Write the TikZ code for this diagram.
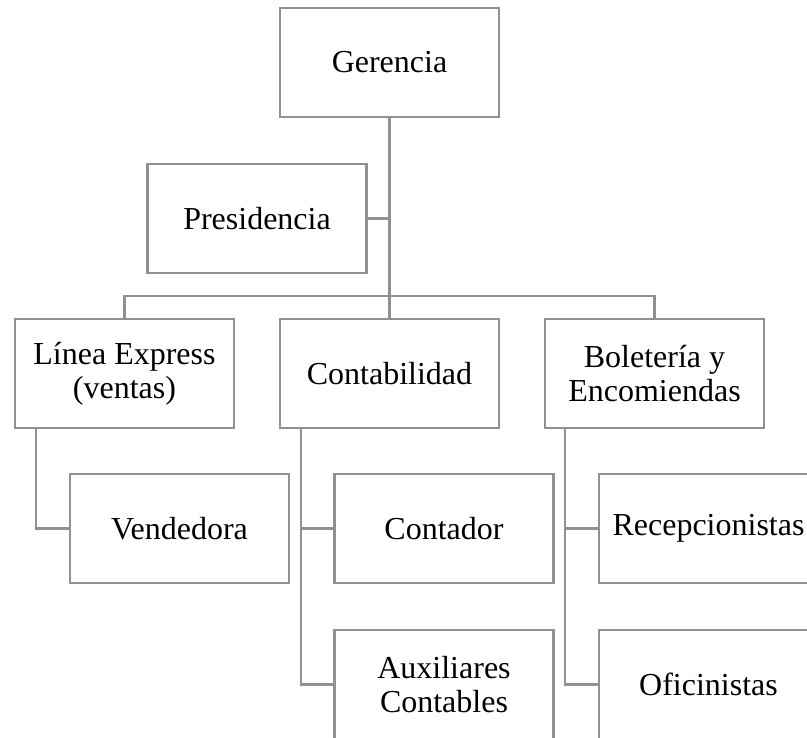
\documentclass[tikz,border=0pt]{standalone}
\usepackage{fontspec}
\setmainfont{Liberation Serif}
\definecolor{linegray}{RGB}{145,145,145}
\begin{document}
\begin{tikzpicture}[x=1pt,y=-1pt,
  box/.style={draw=linegray, line width=2.3pt, fill=white, minimum width=219pt, minimum height=109pt,
    inner sep=0pt, align=center, font=\fontsize{32}{34}\selectfont},
  link/.style={draw=linegray, line width=2.3pt}]
\clip (0,0) rectangle (807,738);
\fill[white] (0,0) rectangle (807,738);
\node[box] (ger) at (389.5,62.5) {Gerencia};
\node[box] (pres) at (257,218.5) {Presidencia};
\node[box] (lin) at (124.5,373.5) {Línea Express\\(ventas)};
\node[box] (cont) at (389.5,373.5) {Contabilidad};
\node[box] (bol) at (654.5,373.5) {Boletería y\\Encomiendas};
\node[box] (vend) at (179.5,528.5) {Vendedora};
\node[box] (ctr) at (444,528.5) {Contador};
\node[box] (aux) at (444,684.5) {Auxiliares\\Contables};
\node[box] (rec) at (708.5,528.5) {Recepcionistas};
\node[box] (ofi) at (708.5,684.5) {Oficinistas};
\coordinate (bus) at (389.5,296);
\draw[link] (ger.south) -- (cont.north);
\draw[link] (pres.east) -- (pres.east -| ger.south);
\draw[link] (lin.north) |- (bus) -| (bol.north);
\draw[link] ([xshift=22pt]lin.south west) |- (vend.west);
\draw[link] ([xshift=22pt]cont.south west) |- (ctr.west);
\draw[link] ([xshift=22pt]cont.south west) |- (aux.west);
\draw[link] ([xshift=21pt]bol.south west) |- (rec.west);
\draw[link] ([xshift=21pt]bol.south west) |- (ofi.west);
\end{tikzpicture}
\end{document}
